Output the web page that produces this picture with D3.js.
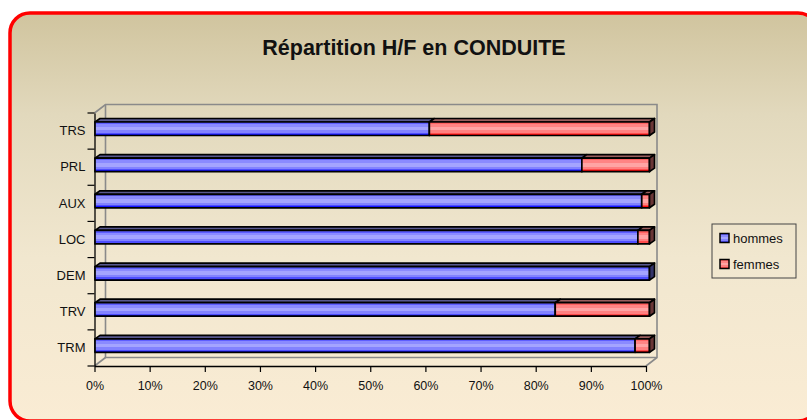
<!DOCTYPE html>
<html>
<head>
<meta charset="utf-8">
<script src="https://cdn.jsdelivr.net/npm/d3@7"></script>
<style>
  html, body { margin: 0; padding: 0; background: #ffffff; }
  svg { display: block; font-family: "Liberation Sans", Arial, sans-serif; }
</style>
</head>
<body>
<svg id="chart" width="807" height="420"></svg>
<script>
// Chart data: share of men / women per driving category (percent)
const categories = ["TRS", "PRL", "AUX", "LOC", "DEM", "TRV", "TRM"];
const hommes = [60.3, 87.8, 98.6, 97.9, 100, 83.0, 97.4];
const femmes = hommes.map(h => +(100 - h).toFixed(1));
const xTickValues = [0, 10, 20, 30, 40, 50, 60, 70, 80, 90, 100];
const seriesNames = ["hommes", "femmes"];
const chartTitle = "Répartition H/F en CONDUITE";

const svg = d3.select("#chart");
const defs = svg.append("defs");

// Page background gradient
const bg = defs.append("linearGradient").attr("id", "bgGrad")
  .attr("x1", 0).attr("y1", 0).attr("x2", 0).attr("y2", 1);
bg.append("stop").attr("offset", "0%").attr("stop-color", "#d0c49e");
bg.append("stop").attr("offset", "25%").attr("stop-color", "#e2d9bd");
bg.append("stop").attr("offset", "60%").attr("stop-color", "#f1e7cf");
bg.append("stop").attr("offset", "100%").attr("stop-color", "#faecd4");

// Striped bar fills
function stripeGradient(id, cols) {
  const g = defs.append("linearGradient").attr("id", id)
    .attr("x1", 0).attr("y1", 0).attr("x2", 0).attr("y2", 1);
  const bands = [0, 0.16, 0.36, 0.62, 0.8, 0.9, 1];
  cols.forEach((c, i) => {
    g.append("stop").attr("offset", bands[i]).attr("stop-color", c);
    g.append("stop").attr("offset", bands[i + 1]).attr("stop-color", c);
  });
}
stripeGradient("blueGrad", ["#5e5eff", "#8a8aff", "#a4a4ff", "#8282ff", "#4e4eff", "#1414ff"]);
stripeGradient("redGrad", ["#ff6262", "#ff8484", "#ffa4a4", "#ff8080", "#ff4c4c", "#ff0c0c"]);

const seriesStyle = {
  hommes: { front: "url(#blueGrad)", top: "#58588f", side: "#34346a" },
  femmes: { front: "url(#redGrad)", top: "#9a5e5e", side: "#6a3636" }
};

// Frame
svg.append("rect")
  .attr("x", 10).attr("y", 13).attr("width", 808).attr("height", 408)
  .attr("rx", 20).attr("ry", 20)
  .attr("fill", "url(#bgGrad)")
  .attr("stroke", "#ff0000").attr("stroke-width", 3.5);

// Title
svg.append("text")
  .attr("x", 414).attr("y", 55)
  .attr("text-anchor", "middle")
  .attr("font-weight", "bold").attr("font-size", 21.5)
  .attr("fill", "#111")
  .text(chartTitle);

// Scales
const y = d3.scaleBand().domain(categories).range([113, 366]);
const x = d3.scaleLinear().domain([0, 100]).range([94.5, 646]);
const xBar = d3.scaleLinear().domain([0, 100]).range([95, 649.5]);
const depth = { dx: 11, dy: 8.5 };

// 3D walls
const walls = svg.append("g").attr("fill", "none").attr("stroke", "#8a8a8a").attr("stroke-width", 1.6);
const [x0, x1] = x.range();
const [yTop, yBot] = y.range();
walls.append("path").attr("d",
  `M${x0},${yTop} L${x0 + depth.dx},${yTop - depth.dy} L${x1 + depth.dx},${yTop - depth.dy} L${x1 + depth.dx},${yBot - depth.dy} L${x1},${yBot}`);
walls.append("path").attr("d",
  `M${x0 + depth.dx},${yTop - depth.dy} L${x0 + depth.dx},${yBot - depth.dy} L${x1 + depth.dx},${yBot - depth.dy}`);
walls.append("path").attr("d",
  `M${x0},${yBot} L${x0 + depth.dx},${yBot - depth.dy}`);

// Axes
const yAxis = d3.axisLeft(y).tickSize(0).tickPadding(9);
const gy = svg.append("g").attr("transform", `translate(${x0},0)`).call(yAxis);
gy.select(".domain").attr("stroke", "#000").attr("stroke-width", 1.3);
gy.selectAll("text").attr("font-size", 13).attr("fill", "#111")
  .attr("font-family", "'Liberation Sans', Arial, sans-serif");
// category boundary ticks
const bounds = categories.map(c => y(c)).concat([yBot]);
gy.selectAll(".bound").data(bounds).enter().append("line")
  .attr("x1", -7).attr("x2", 0)
  .attr("y1", d => d).attr("y2", d => d)
  .attr("stroke", "#000").attr("stroke-width", 1.2);

const xAxis = d3.axisBottom(x).tickValues(xTickValues)
  .tickFormat(d => d + "%").tickSize(6).tickSizeOuter(0).tickPadding(9);
const gx = svg.append("g").attr("transform", `translate(0,${yBot})`).call(xAxis);
gx.select(".domain").attr("stroke", "#000").attr("stroke-width", 1.3);
gx.selectAll(".tick line").attr("stroke", "#000").attr("stroke-width", 1.2);
gx.selectAll("text").attr("font-size", 12.5).attr("fill", "#111")
  .attr("font-family", "'Liberation Sans', Arial, sans-serif");

// Bars: stacked 3D segments
const stackData = categories.map((c, i) => ({ cat: c, hommes: hommes[i], femmes: femmes[i] }));
const stacked = d3.stack().keys(seriesNames)(stackData);
const bd = { dx: 5, dy: 3.5 };
const faceTop = 9, faceH = 13.5;
const bars = svg.append("g").attr("stroke", "#000").attr("stroke-width", 1.7).attr("stroke-linejoin", "round");

stacked.forEach(layer => {
  const st = seriesStyle[layer.key];
  layer.forEach(seg => {
    if (seg[1] - seg[0] <= 0) return;
    const cat = seg.data.cat;
    const a = xBar(seg[0]), b = xBar(seg[1]);
    const t = y(cat) + faceTop, btm = t + faceH;
    // top face
    bars.append("path")
      .attr("d", `M${a},${t} L${a + bd.dx},${t - bd.dy} L${b + bd.dx},${t - bd.dy} L${b},${t} Z`)
      .attr("fill", st.top);
    // front face
    bars.append("rect")
      .attr("x", a).attr("y", t).attr("width", b - a).attr("height", faceH)
      .attr("fill", st.front);
    // end cap on the last segment
    if (seg[1] >= 100) {
      bars.append("path")
        .attr("d", `M${b},${t} L${b + bd.dx},${t - bd.dy} L${b + bd.dx},${btm - bd.dy} L${b},${btm} Z`)
        .attr("fill", st.side);
    }
  });
});

// Legend
const lg = svg.append("g").attr("font-size", 13).attr("fill", "#111");
lg.append("rect").attr("x", 712).attr("y", 224).attr("width", 84).attr("height", 54)
  .attr("fill", "none").attr("stroke", "#444").attr("stroke-width", 1);
seriesNames.forEach((name, i) => {
  const yy = 238 + i * 26;
  lg.append("rect").attr("x", 720).attr("y", yy - 4.5).attr("width", 9).attr("height", 9)
    .attr("fill", seriesStyle[name].front).attr("stroke", "#000").attr("stroke-width", 1.5);
  lg.append("text").attr("x", 733).attr("y", yy + 4.5).text(name);
});
</script>
</body>
</html>
